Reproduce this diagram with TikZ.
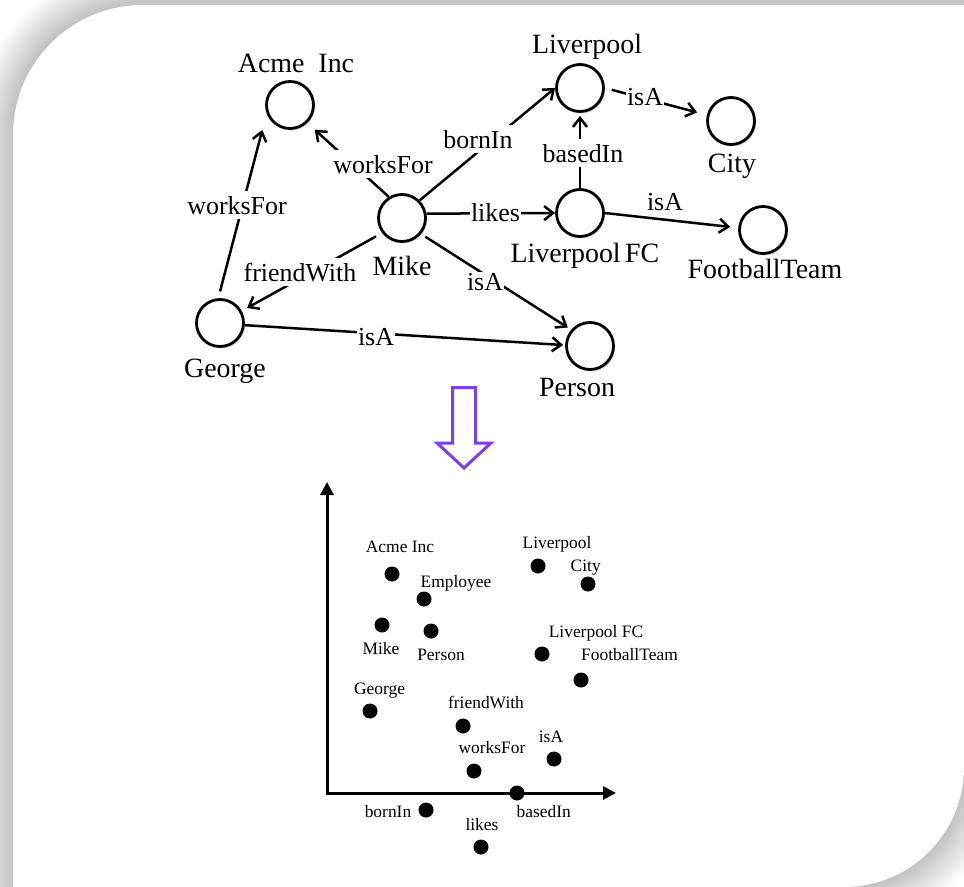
\documentclass[tikz,border=0pt]{standalone}
\usepackage{fontspec}
\setmainfont{Liberation Serif}
\usetikzlibrary{arrows.meta,shadows}

\definecolor{arrowpurple}{RGB}{124,60,240}

\begin{document}
\begin{tikzpicture}[x=1bp,y=-1bp,
  entity/.style={circle,draw,line width=2.8bp,minimum size=47bp,inner sep=0pt,fill=white,
    drop shadow={shadow xshift=1.5bp,shadow yshift=-2bp,opacity=0.3,fill=black!45}},
  entname/.style={font=\fontsize{28}{30}\selectfont,anchor=base,inner sep=0pt},
  rellabel/.style={font=\fontsize{26}{28}\selectfont,anchor=base,fill=white,inner sep=5bp},
  tightlabel/.style={inner sep=1bp},
  link/.style={line width=2.5bp,-{Straight Barb[length=9bp,width=14bp]}},
  vecdot/.style={circle,fill=black,minimum size=15bp,inner sep=0pt},
  vectag/.style={font=\fontsize{17.5}{19}\selectfont,anchor=base,inner sep=0pt},
  axisline/.style={line width=3bp,{Triangle[length=13bp,width=13bp]}-{Triangle[length=13bp,width=13bp]}}
]
\path[use as bounding box] (0,0) rectangle (964,887);
\fill[white] (0,0) rectangle (964,887);

% soft shadow around the card, built from stacked translucent strokes
\foreach \w in {4,8,...,80} {
  \draw[line width=\w bp, black, opacity=0.0105, line join=round]
    (13,887) -- (13,135) .. controls (13,63.2) and (71.2,5) .. (143,5) -- (964,5)
    -- (964,767) .. controls (964,833.3) and (910.3,887) .. (844,887) -- cycle;
}
% the card
\fill[white]
  (13,887) -- (13,135) .. controls (13,63.2) and (71.2,5) .. (143,5) -- (964,5)
  -- (964,767) .. controls (964,833.3) and (910.3,887) .. (844,887) -- cycle;

% ---------------- knowledge graph ----------------
\node[entity] (acme) at (290,105) {};
\node[entity] (mike) at (402,218) {};
\node[entity] (george) at (220,323) {};
\node[entity] (liv) at (580,88) {};
\node[entity] (city) at (731,121) {};
\node[entity] (lfc) at (580,213) {};
\node[entity] (ft) at (763,230) {};
\node[entity] (person) at (590,346) {};

\node[entname] (acmeN) at (296,72) {Acme\ \ Inc};
\node[entname] (mikeN) at (402,275) {Mike};
\node[entname] (georgeN) at (225,377) {George};
\node[entname] (livN) at (587,53) {Liverpool};
\node[entname] (cityN) at (732,172) {City};
\node[entname] (lfcN) at (585,262) {Liverpool\hspace{4.5bp}FC};
\node[entname] (ftN) at (765,278) {FootballTeam};
\node[entname] (personN) at (577,396) {Person};

\draw[link, shorten <=7bp, shorten >=17bp] (george.94) -- (acme.200);
\draw[link, shorten >=10bp] (mike.122) -- (acme.-46);
\draw[link] (mike.45) -- (liv.180);
\draw[link] (mike.10) -- (lfc.west);
\draw[link, shorten >=3bp] (lfc.north) -- (lfc.north |- liv.south);
\draw[link, shorten <=7bp, shorten >=10bp] (liv.0) -- (city.166);
\draw[link, shorten >=8bp] (lfc.east) -- (ft.175);
\draw[link, shorten <=5bp, shorten >=4bp] (mike.-40) -- (person.139);
\draw[link, shorten <=7bp, shorten >=6bp] (mike.217) -- (george.29);
\draw[link, shorten >=2bp] (george.-5) -- (person.178);

\node[rellabel] (wf1) at (237,214) {worksFor};
\node[rellabel] (wf2) at (383,173) {worksFor};
\node[rellabel] (born) at (478,148) {bornIn};
\node[rellabel,tightlabel] (likes) at (495.5,221.7) {likes};
\node[rellabel] (based) at (583,162) {basedIn};
\node[rellabel,tightlabel] (isa1) at (645,105) {isA};
\node[rellabel,fill=none] (isa2) at (665,210) {isA};
\node[rellabel,tightlabel] (isa3) at (485,290) {isA};
\node[rellabel] (fw) at (300,281) {friendWith};
\node[rellabel,tightlabel] (isa4) at (376,345) {isA};

% ---------------- transformation arrow ----------------
\draw[arrowpurple, line width=3bp, line join=miter]
  (452.5,387.5) -- (475.5,387.5) -- (475.5,443) -- (491,443) -- (464,468)
  -- (437,443) -- (452.5,443) -- cycle;

% ---------------- embedding space ----------------
\coordinate (ytop) at (327,482);
\coordinate (origin) at (327,793);
\coordinate (xend) at (616,793);
\draw[axisline] (ytop) -- (origin) -- (xend);

\node[vecdot] (pAcme) at (392,574) {};
\node[vecdot] (pEmployee) at (424,599) {};
\node[vecdot] (pMike) at (382,625) {};
\node[vecdot] (pPerson) at (431,631) {};
\node[vecdot] (pGeorge) at (370,711) {};
\node[vecdot] (pFriend) at (463,726) {};
\node[vecdot] (pWorks) at (474,771) {};
\node[vecdot] (pIsA) at (554,759) {};
\node[vecdot] (pBased) at (517,793) {};
\node[vecdot] (pBorn) at (426,810) {};
\node[vecdot] (pLikes) at (481,847) {};
\node[vecdot] (pLiv) at (538,566) {};
\node[vecdot] (pCity) at (588,584) {};
\node[vecdot] (pLfc) at (542,654) {};
\node[vecdot] (pFt) at (581,680) {};

\node[vectag] (tAcme) at (400,552.7) {Acme Inc};
\node[vectag] (tEmployee) at (456,587) {Employee};
\node[vectag] (tMike) at (381,654) {Mike};
\node[vectag] (tPerson) at (441,660) {Person};
\node[vectag] (tGeorge) at (379.5,694) {George};
\node[vectag] (tFriend) at (486,708) {friendWith};
\node[vectag] (tWorks) at (492,753) {worksFor};
\node[vectag] (tIsA) at (551,742) {isA};
\node[vectag] (tBorn) at (388,817) {bornIn};
\node[vectag] (tBased) at (543.7,817) {basedIn};
\node[vectag] (tLikes) at (482,830) {likes};
\node[vectag] (tLiv) at (557,548) {Liverpool};
\node[vectag] (tCity) at (585.7,571) {City};
\node[vectag] (tLfc) at (596,637.7) {Liverpool FC};
\node[vectag] (tFt) at (629.5,660) {FootballTeam};
\end{tikzpicture}
\end{document}
